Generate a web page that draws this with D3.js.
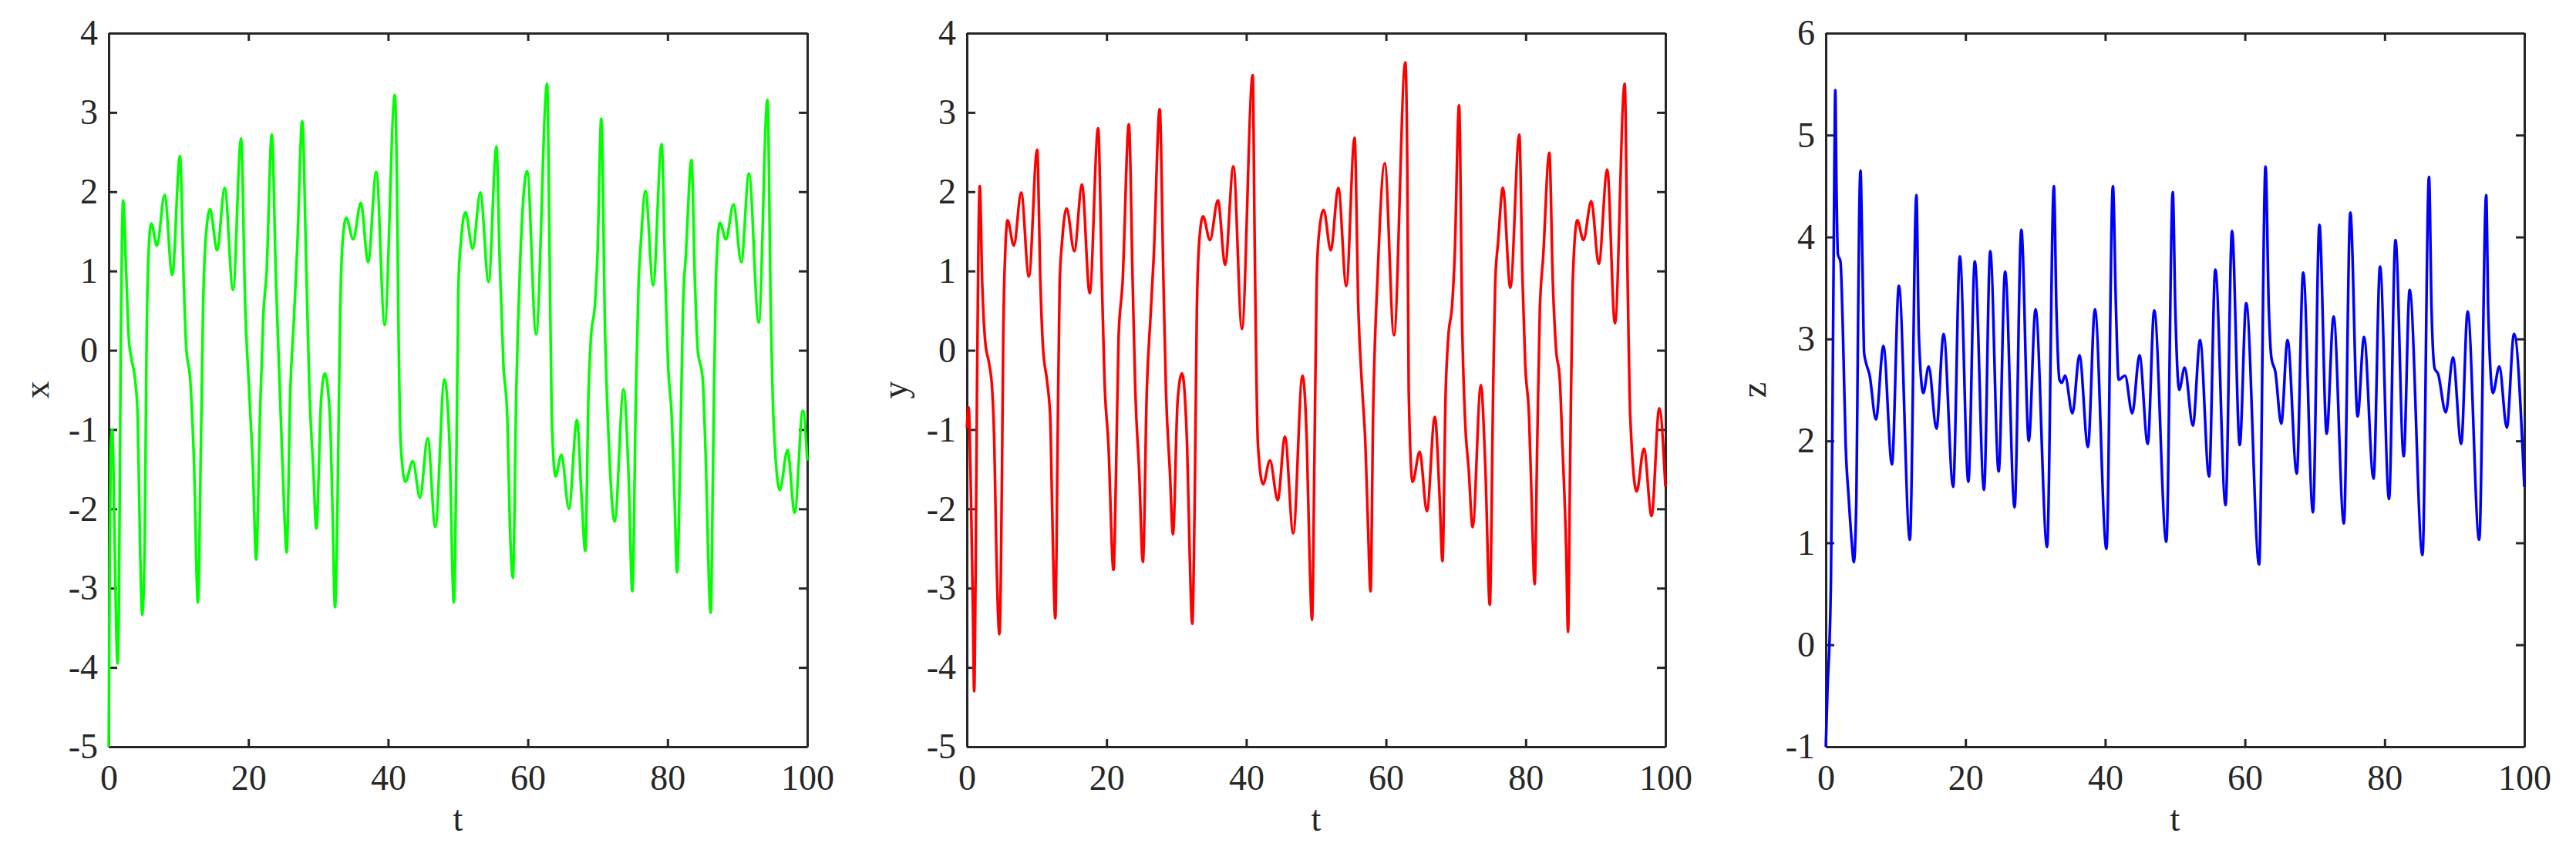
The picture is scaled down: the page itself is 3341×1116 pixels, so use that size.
<!DOCTYPE html>
<meta charset="utf-8">
<title>x, y, z time series</title>
<script src="https://d3js.org/d3.v7.min.js"></script>
<style>
  body { margin: 0; background: #fff; }
  text { font-family: "Liberation Serif", "Times New Roman", serif; }
</style>
<body>
<svg width="3341" height="1116"></svg>
<script>

// ---- data: [t, value] ----
var xData = [[0,-5],[0.15,-2.5],[0.3,-1.2],[0.5,-1.0],[0.7,-1.6],[0.85,-2.4],[1.05,-3.4],[1.25,-3.95],[1.45,-3.3],[1.6,-1.5],[1.75,0.3],[1.9,1.4],[2.06,1.89],
  [2.5,0.98],[2.86,0.17],[3.23,-0.1],[3.78,-0.37],[4.15,-0.84],[4.5,-2.53],[4.8,-3.34],[5.14,-2.5],[5.43,0.17],[5.8,1.39],[6.09,1.6],[6.9,1.32],[8.0,1.96],[9.1,0.95],[10.2,2.45],
  [10.75,0.84],[11.1,0.03],[11.67,-0.37],[12.2,-1.39],[12.77,-3.18],[13.2,-1.18],[13.5,0.5],[13.87,1.39],[14.5,1.78],[15.52,1.26],[16.6,2.05],[17.8,0.76],[18.94,2.67],
  [19.56,0.5],[20.1,-0.5],[20.66,-1.52],[21.1,-2.64],[21.65,-0.85],[22.13,0.44],[22.6,0.98],[23.34,2.72],[23.96,0.84],[24.5,-0.5],[25.06,-1.86],[25.47,-2.55],[26.0,-0.5],
  [26.5,0.37],[27.0,1.32],[27.7,2.89],[28.3,0.98],[28.73,-0.5],[29.3,-1.52],[29.72,-2.25],[30.4,-0.64],[30.94,-0.29],[31.67,-0.84],[32.0,-1.86],[32.4,-3.24],[32.77,-1.86],
  [33.14,0.5],[33.5,1.39],[34.0,1.67],[35.0,1.4],[36.1,1.86],[37.13,1.11],[38.3,2.25],[39.5,0.32],[40.96,3.22],[41.25,2.2],[41.5,0.17],[41.8,-1.18],[42.46,-1.66],[43.53,-1.4],
  [44.56,-1.86],[45.66,-1.11],[46.76,-2.23],[48.05,-0.37],[48.79,-1.18],[49.4,-3.18],[49.8,-1.18],[50.07,0.84],[50.44,1.39],[51.07,1.74],[52.1,1.28],[53.2,1.99],[54.38,0.86],
  [55.5,2.57],[55.96,1.18],[56.5,-0.17],[57.06,-0.84],[57.43,-2.2],[57.87,-2.87],[58.35,-0.5],[58.9,1.11],[59.9,2.26],[61.18,0.2],[62.76,3.36],[63.12,1.18],[63.42,-0.84],
  [63.97,-1.59],[64.8,-1.32],[65.88,-2.0],[67.03,-0.88],[67.7,-1.86],[68.22,-2.53],[68.7,-0.5],[69.04,0.17],[69.6,0.57],[69.96,1.18],[70.51,2.92],[71.07,0.17],[71.6,-1.18],
  [72.43,-2.16],[73.7,-0.49],[74.4,-1.52],[74.96,-3.04],[75.48,-0.5],[75.85,0.84],[76.2,1.39],[76.84,2.01],[77.94,0.82],[79.15,2.6],[79.7,0.84],[80.07,-0.17],[80.6,-0.84],
  [81.0,-1.86],[81.36,-2.8],[81.84,-1.18],[82.2,0.5],[82.65,1.25],[83.42,2.4],[83.93,0.84],[84.3,0.03],[85.04,-0.37],[85.4,-1.18],[86.18,-3.31],[86.5,-1.52],[86.9,0.84],
  [87.5,1.61],[88.35,1.4],[89.45,1.84],[90.55,1.11],[91.65,2.23],[93.05,0.35],[94.3,3.16],[94.78,0.5],[95.15,-0.84],[96.07,-1.76],[97.17,-1.26],[98.2,-2.05],[99.37,-0.76],[100,-1.39]];

var yData = [[0,-0.98],[0.25,-0.72],[0.6,-1.9],[0.85,-3.2],[1.05,-4.3],[1.25,-2.8],[1.45,-0.5],[1.65,1.3],[1.85,2.07],[2.2,0.84],[2.64,0.1],[3.19,-0.17],[3.63,-0.5],
  [3.93,-1.18],[4.22,-2.53],[4.66,-3.58],[5.03,-1.52],[5.21,0.17],[5.5,1.25],[5.83,1.64],[6.72,1.32],[7.78,1.99],[8.88,0.93],[10.06,2.53],[10.53,0.84],[10.9,0.03],
  [11.45,-0.37],[11.93,-0.84],[12.18,-1.86],[12.66,-3.38],[12.99,-1.18],[13.28,0.84],[13.65,1.39],[14.28,1.79],[15.38,1.25],[16.48,2.09],[17.58,0.72],[18.79,2.8],
  [19.34,0.84],[19.7,-0.37],[20.26,-1.18],[20.99,-2.77],[21.36,-1.52],[21.72,0.17],[22.28,0.84],[23.19,2.85],[23.74,0.84],[24.11,-0.5],[24.66,-1.52],[25.2,-2.67],
  [25.76,-0.5],[26.3,0.44],[26.75,1.18],[27.6,3.04],[28.15,0.84],[28.5,-0.5],[29.06,-1.52],[29.5,-2.32],[30.17,-0.64],[30.79,-0.29],[31.52,-1.18],[31.89,-2.53],
  [32.26,-3.45],[32.62,-1.86],[32.92,0.5],[33.28,1.39],[33.8,1.69],[34.8,1.39],[35.94,1.89],[36.97,1.08],[38.15,2.32],[39.37,0.27],[40.92,3.47],[41.18,1.52],[41.37,0.17],
  [41.66,-1.18],[42.4,-1.69],[43.39,-1.39],[44.5,-1.89],[45.53,-1.09],[46.72,-2.31],[48.04,-0.32],[48.67,-1.18],[49.04,-2.53],[49.41,-3.4],[49.78,-1.18],[50.07,0.84],
  [50.33,1.39],[51.07,1.77],[52.1,1.26],[53.17,2.05],[54.32,0.81],[55.5,2.68],[56.05,0.5],[56.6,-0.5],[57.05,-1.18],[57.42,-2.2],[57.79,-3.04],[58.15,-0.84],[58.82,0.98],
  [59.82,2.36],[61.14,0.19],[62.77,3.63],[63.06,2.2],[63.25,-0.5],[63.8,-1.66],[64.83,-1.28],[65.85,-2.03],[66.99,-0.84],[67.68,-1.86],[68.08,-2.66],[68.55,-0.5],
  [68.92,0.17],[69.47,0.57],[69.83,1.18],[70.46,3.09],[70.94,0.17],[71.3,-0.84],[71.85,-1.52],[72.4,-2.23],[73.58,-0.44],[74.24,-1.52],[74.86,-3.21],[75.34,-0.5],
  [75.63,0.84],[76.07,1.39],[76.73,2.05],[77.8,0.79],[79.08,2.72],[79.56,0.84],[79.93,-0.17],[80.48,-0.84],[80.84,-1.86],[81.28,-2.95],[81.65,-1.18],[82.02,0.5],
  [82.5,1.18],[83.38,2.49],[83.89,0.84],[84.33,0.03],[84.88,-0.37],[85.25,-1.18],[85.8,-2.53],[86.06,-3.55],[86.35,-1.52],[86.72,0.84],[87.38,1.64],[88.26,1.39],
  [89.39,1.88],[90.46,1.09],[91.67,2.28],[92.77,0.34],[94.17,3.36],[94.6,0.84],[94.97,-0.84],[95.89,-1.78],[96.92,-1.24],[98.02,-2.09],[99.12,-0.73],[100,-1.72]];

var zData = [[0,-1],[0.26,-0.4],[0.52,0],[0.74,0.66],[0.92,1.97],[1.07,3.28],[1.22,4.6],[1.36,5.44],[1.51,4.6],[1.73,3.83],[2.1,3.76],[2.47,3.02],[2.84,1.97],
  [3.28,1.44],[3.76,0.97],[4.01,0.81],[4.38,1.44],[4.6,3.02],[4.79,4.23],[4.97,4.65],[5.23,3.81],[5.49,2.86],[5.78,2.76],[6.26,2.65],[7.18,2.21],[8.25,2.93],[9.47,1.77],
  [10.46,3.52],[12.04,1.03],[12.97,4.41],[13.33,3.02],[13.96,2.47],[14.73,2.73],[15.84,2.12],[16.87,3.05],[18.23,1.55],[19.19,3.81],[20.41,1.6],[21.33,3.76],[22.65,1.52],
  [23.54,3.86],[24.75,1.7],[25.67,3.66],[27.03,1.35],[27.99,4.07],[29.06,2.0],[30.02,3.29],[31.68,0.96],[32.65,4.5],[33.02,3.28],[33.45,2.6],[33.8,2.57],[34.25,2.64],
  [35.31,2.27],[36.31,2.84],[37.53,1.94],[38.52,3.29],[40.18,0.94],[41.1,4.5],[41.55,3.28],[41.92,2.6],[42.84,2.64],[43.87,2.27],[44.91,2.84],[46.09,1.97],[47.01,3.28],
  [48.75,1.01],[49.67,4.44],[50.04,3.28],[50.59,2.5],[51.37,2.72],[52.55,2.15],[53.58,2.99],[54.87,1.65],[55.76,3.68],[57.23,1.37],[58.15,4.06],[59.26,1.96],[60.18,3.35],
  [62.03,0.79],[62.95,4.69],[63.43,3.28],[63.8,2.81],[64.35,2.68],[65.2,2.17],[66.1,2.99],[67.42,1.68],[68.34,3.65],[69.74,1.3],[70.66,4.12],[71.7,2.07],[72.69,3.22],
  [74.17,1.19],[75.09,4.24],[76.13,2.24],[77.05,3.02],[78.41,1.63],[79.34,3.71],[80.63,1.43],[81.55,3.97],[82.73,1.85],[83.58,3.48],[85.42,0.88],[86.35,4.59],[86.72,3.28],
  [87.16,2.71],[87.64,2.66],[88.75,2.28],[89.78,2.82],[90.96,1.97],[91.88,3.27],[93.54,1.03],[94.54,4.41],[94.83,3.28],[95.5,2.47],[96.42,2.73],[97.49,2.13],[98.52,3.05],[100,1.55]];

var tTicks = [0, 20, 40, 60, 80, 100];
var xyTicks = [-5, -4, -3, -2, -1, 0, 1, 2, 3, 4];
var zTicks = [-1, 0, 1, 2, 3, 4, 5, 6];

var panels = [
  {data: xData, label: "x", color: "#00ff00", domain: [-5, 4], ticks: xyTicks, left: 141},
  {data: yData, label: "y", color: "#ff0000", domain: [-5, 4], ticks: xyTicks, left: 1254},
  {data: zData, label: "z", color: "#0000ff", domain: [-1, 6], ticks: zTicks, left: 2368}
];

var svg = d3.select("svg");
var plotTop = 43, width = 906, height = 926;
var axisColor = "#262626";
var fontSize = 46;

// plain hyphen for negatives, like the reference
function fmt(d) { return String(d); }

panels.forEach(function(p, i) {
  var g = svg.append("g")
      .attr("transform", "translate(" + p.left + "," + plotTop + ")");

  var x = d3.scaleLinear().domain([0, 100]).range([0, width]);
  var y = d3.scaleLinear().domain(p.domain).range([height, 0]);

  // axes, ticks pointing inward on all four sides
  var bottom = g.append("g").attr("transform", "translate(0," + height + ")")
      .call(d3.axisBottom(x).tickValues(tTicks).tickSizeInner(-10).tickSizeOuter(0).tickPadding(23).tickFormat(fmt));
  var leftAx = g.append("g")
      .call(d3.axisLeft(y).tickValues(p.ticks).tickSizeInner(-11).tickSizeOuter(0).tickPadding(14).tickFormat(fmt));
  var topAx = g.append("g")
      .call(d3.axisTop(x).tickValues(tTicks).tickSizeInner(-10).tickSizeOuter(0).tickFormat(""));
  var rightAx = g.append("g").attr("transform", "translate(" + width + ",0)")
      .call(d3.axisRight(y).tickValues(p.ticks).tickSizeInner(-11).tickSizeOuter(0).tickFormat(""));

  [bottom, leftAx, topAx, rightAx].forEach(function(a) {
    a.select(".domain").attr("stroke", axisColor).attr("stroke-width", 3);
    a.selectAll(".tick line").attr("stroke", axisColor).attr("stroke-width", 3);
    a.selectAll(".tick text")
        .attr("fill", axisColor)
        .style("font-family", '"Liberation Serif", serif')
        .style("font-size", fontSize + "px");
  });

  // labels
  g.append("text")
      .attr("x", width / 2)
      .attr("y", 1078 - plotTop)
      .attr("text-anchor", "middle")
      .attr("fill", axisColor)
      .style("font-size", fontSize + "px")
      .text("t");

  g.append("text")
      .attr("transform", "translate(-78," + (height / 2) + ") rotate(-90)")
      .attr("text-anchor", "middle")
      .attr("fill", axisColor)
      .style("font-size", fontSize + "px")
      .text(p.label);

  // the series
  g.append("clipPath").attr("id", "clip" + i)
    .append("rect").attr("x", -2).attr("y", -2).attr("width", width + 4).attr("height", height + 4);

  var line = d3.line()
      .x(function(d) { return x(d[0]); })
      .y(function(d) { return y(d[1]); })
      .curve(d3.curveMonotoneX);

  g.append("path")
      .datum(p.data)
      .attr("clip-path", "url(#clip" + i + ")")
      .attr("fill", "none")
      .attr("stroke", p.color)
      .attr("stroke-width", 3.5)
      .attr("stroke-linejoin", "round")
      .attr("d", line);
});

</script>
</body>
